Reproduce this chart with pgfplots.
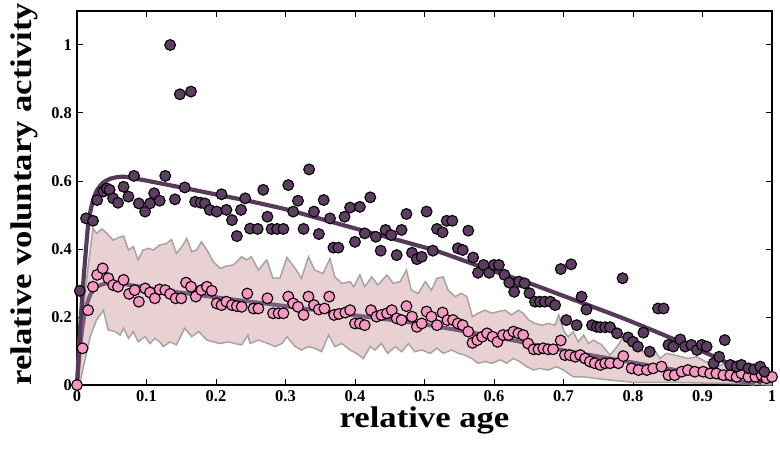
\documentclass[border=0pt]{standalone}
\usepackage{fontspec}
\setmainfont{Liberation Serif}
\usepackage{graphicx}
\usepackage{pgfplots}
\pgfplotsset{compat=1.18}
\definecolor{darkpt}{HTML}{5E3D62}
\definecolor{darkfit}{HTML}{573959}
\definecolor{pinkpt}{HTML}{F497C1}
\definecolor{pinkfit}{HTML}{7A5C7E}
\definecolor{bandfill}{HTML}{E9D1D3}
\definecolor{bandedge}{HTML}{A4A4A4}
\begin{document}
\begin{tikzpicture}
\useasboundingbox (-77bp,-64bp) rectangle (703bp,385bp);
\begin{axis}[
  at={(0,0)}, anchor=south west,
  width=695bp, height=374bp, scale only axis,
  xmin=0, xmax=1, ymin=0, ymax=1.1,
  clip=false,
  axis line style={line width=1.1pt},
  tick style={line width=1pt, black},
  major tick length=6bp,
  tick align=inside,
  /pgf/number format/assume math mode=true,
  xtick={0,0.1,0.2,0.3,0.4,0.5,0.6,0.7,0.8,0.9,1},
  xticklabels={0,0.1,0.2,0.3,0.4,0.5,0.6,0.7,0.8,0.9,1},
  ytick={0,0.2,0.4,0.6,0.8,1},
  yticklabels={0,0.2,0.4,0.6,0.8,1},
  tick label style={font=\fontsize{16.5}{16.5}\selectfont\bfseries, inner sep=2bp},
  xticklabel style={yshift=-3bp},
  yticklabel style={xshift=-3bp},
  xlabel={\scalebox{1.16}[1]{relative age}},
  ylabel={\scalebox{1.16}[1]{relative voluntary activity}},
  label style={font=\fontsize{30}{30}\selectfont\bfseries, inner sep=0pt},
  xlabel style={at={(axis description cs:0.5,-0.1123)}, anchor=base},
  ylabel style={at={(axis description cs:-0.0652,0.5107)}, anchor=base, rotate=0},
]
% shaded band
\addplot[fill=bandfill, draw=none] coordinates {
(0,0) (0.008,0.2) (0.016,0.348) (0.023,0.461) (0.028,0.446) (0.036,0.459) (0.043,0.446) (0.052,0.426) (0.06,0.434) (0.067,0.438) (0.074,0.397) (0.081,0.407) (0.088,0.368) (0.095,0.397) (0.103,0.402) (0.11,0.397) (0.119,0.412) (0.129,0.416) (0.136,0.428) (0.143,0.387) (0.151,0.407) (0.158,0.431) (0.165,0.392) (0.172,0.397) (0.179,0.421) (0.187,0.397) (0.196,0.363) (0.206,0.343) (0.215,0.35) (0.225,0.353) (0.237,0.377) (0.244,0.368) (0.251,0.377) (0.261,0.338) (0.273,0.368) (0.282,0.314) (0.292,0.314) (0.302,0.375) (0.314,0.343) (0.323,0.314) (0.333,0.377) (0.342,0.338) (0.354,0.328) (0.364,0.372) (0.371,0.318) (0.381,0.299) (0.393,0.304) (0.398,0.289) (0.407,0.324) (0.414,0.289) (0.424,0.318) (0.433,0.294) (0.446,0.324) (0.455,0.299) (0.465,0.304) (0.474,0.338) (0.481,0.279) (0.491,0.269) (0.501,0.304) (0.51,0.279) (0.518,0.314) (0.527,0.318) (0.534,0.279) (0.544,0.26) (0.553,0.27) (0.561,0.26) (0.569,0.201) (0.577,0.211) (0.587,0.22) (0.597,0.211) (0.606,0.216) (0.616,0.22) (0.625,0.206) (0.635,0.22) (0.642,0.211) (0.65,0.191) (0.659,0.181) (0.669,0.176) (0.678,0.181) (0.688,0.176) (0.693,0.206) (0.701,0.157) (0.707,0.142) (0.714,0.157) (0.721,0.127) (0.729,0.147) (0.736,0.122) (0.743,0.132) (0.755,0.118) (0.767,0.088) (0.779,0.118) (0.788,0.152) (0.8,0.113) (0.812,0.103) (0.822,0.083) (0.829,0.108) (0.839,0.078) (0.848,0.093) (0.86,0.088) (0.87,0.083) (0.879,0.078) (0.892,0.083) (0.904,0.069) (0.916,0.064) (0.923,0.054) (0.932,0.064) (0.942,0.044) (0.951,0.034) (0.966,0.024) (0.98,0.015) (0.995,0.005) (1,0.003)
(1,0) (0.95,0.004) (0.9,0.006) (0.85,0.008) (0.8,0.008) (0.78,0.012) (0.76,0.016) (0.743,0.02) (0.729,0.024) (0.714,0.024) (0.7,0.044) (0.69,0.054) (0.678,0.044) (0.666,0.049) (0.657,0.044) (0.647,0.054) (0.637,0.069) (0.628,0.078) (0.618,0.064) (0.609,0.074) (0.597,0.064) (0.587,0.069) (0.577,0.064) (0.568,0.078) (0.558,0.088) (0.549,0.093) (0.539,0.103) (0.527,0.093) (0.518,0.108) (0.508,0.093) (0.496,0.103) (0.486,0.098) (0.477,0.122) (0.467,0.098) (0.458,0.113) (0.447,0.093) (0.438,0.122) (0.429,0.103) (0.422,0.113) (0.412,0.078) (0.402,0.093) (0.393,0.103) (0.381,0.122) (0.371,0.113) (0.362,0.147) (0.352,0.098) (0.342,0.108) (0.333,0.113) (0.323,0.103) (0.314,0.113) (0.302,0.142) (0.295,0.122) (0.285,0.113) (0.275,0.122) (0.261,0.132) (0.249,0.122) (0.246,0.147) (0.237,0.118) (0.227,0.122) (0.218,0.127) (0.206,0.122) (0.196,0.127) (0.187,0.132) (0.175,0.157) (0.165,0.142) (0.155,0.167) (0.143,0.118) (0.134,0.127) (0.124,0.113) (0.119,0.127) (0.112,0.137) (0.105,0.122) (0.098,0.142) (0.088,0.127) (0.081,0.157) (0.074,0.137) (0.067,0.167) (0.062,0.147) (0.055,0.157) (0.045,0.162) (0.038,0.22) (0.028,0.191) (0.019,0.142) (0.004,0.005) (0,0)
} -- cycle;
\addplot[draw=bandedge, line width=1.5pt] coordinates {
(0,0) (0.008,0.2) (0.016,0.348) (0.023,0.461) (0.028,0.446) (0.036,0.459) (0.043,0.446) (0.052,0.426) (0.06,0.434) (0.067,0.438) (0.074,0.397) (0.081,0.407) (0.088,0.368) (0.095,0.397) (0.103,0.402) (0.11,0.397) (0.119,0.412) (0.129,0.416) (0.136,0.428) (0.143,0.387) (0.151,0.407) (0.158,0.431) (0.165,0.392) (0.172,0.397) (0.179,0.421) (0.187,0.397) (0.196,0.363) (0.206,0.343) (0.215,0.35) (0.225,0.353) (0.237,0.377) (0.244,0.368) (0.251,0.377) (0.261,0.338) (0.273,0.368) (0.282,0.314) (0.292,0.314) (0.302,0.375) (0.314,0.343) (0.323,0.314) (0.333,0.377) (0.342,0.338) (0.354,0.328) (0.364,0.372) (0.371,0.318) (0.381,0.299) (0.393,0.304) (0.398,0.289) (0.407,0.324) (0.414,0.289) (0.424,0.318) (0.433,0.294) (0.446,0.324) (0.455,0.299) (0.465,0.304) (0.474,0.338) (0.481,0.279) (0.491,0.269) (0.501,0.304) (0.51,0.279) (0.518,0.314) (0.527,0.318) (0.534,0.279) (0.544,0.26) (0.553,0.27) (0.561,0.26) (0.569,0.201) (0.577,0.211) (0.587,0.22) (0.597,0.211) (0.606,0.216) (0.616,0.22) (0.625,0.206) (0.635,0.22) (0.642,0.211) (0.65,0.191) (0.659,0.181) (0.669,0.176) (0.678,0.181) (0.688,0.176) (0.693,0.206) (0.701,0.157) (0.707,0.142) (0.714,0.157) (0.721,0.127) (0.729,0.147) (0.736,0.122) (0.743,0.132) (0.755,0.118) (0.767,0.088) (0.779,0.118) (0.788,0.152) (0.8,0.113) (0.812,0.103) (0.822,0.083) (0.829,0.108) (0.839,0.078) (0.848,0.093) (0.86,0.088) (0.87,0.083) (0.879,0.078) (0.892,0.083) (0.904,0.069) (0.916,0.064) (0.923,0.054) (0.932,0.064) (0.942,0.044) (0.951,0.034) (0.966,0.024) (0.98,0.015) (0.995,0.005) (1,0.003)
};
\addplot[draw=bandedge, line width=1.5pt] coordinates {
(1,0) (0.95,0.004) (0.9,0.006) (0.85,0.008) (0.8,0.008) (0.78,0.012) (0.76,0.016) (0.743,0.02) (0.729,0.024) (0.714,0.024) (0.7,0.044) (0.69,0.054) (0.678,0.044) (0.666,0.049) (0.657,0.044) (0.647,0.054) (0.637,0.069) (0.628,0.078) (0.618,0.064) (0.609,0.074) (0.597,0.064) (0.587,0.069) (0.577,0.064) (0.568,0.078) (0.558,0.088) (0.549,0.093) (0.539,0.103) (0.527,0.093) (0.518,0.108) (0.508,0.093) (0.496,0.103) (0.486,0.098) (0.477,0.122) (0.467,0.098) (0.458,0.113) (0.447,0.093) (0.438,0.122) (0.429,0.103) (0.422,0.113) (0.412,0.078) (0.402,0.093) (0.393,0.103) (0.381,0.122) (0.371,0.113) (0.362,0.147) (0.352,0.098) (0.342,0.108) (0.333,0.113) (0.323,0.103) (0.314,0.113) (0.302,0.142) (0.295,0.122) (0.285,0.113) (0.275,0.122) (0.261,0.132) (0.249,0.122) (0.246,0.147) (0.237,0.118) (0.227,0.122) (0.218,0.127) (0.206,0.122) (0.196,0.127) (0.187,0.132) (0.175,0.157) (0.165,0.142) (0.155,0.167) (0.143,0.118) (0.134,0.127) (0.124,0.113) (0.119,0.127) (0.112,0.137) (0.105,0.122) (0.098,0.142) (0.088,0.127) (0.081,0.157) (0.074,0.137) (0.067,0.167) (0.062,0.147) (0.055,0.157) (0.045,0.162) (0.038,0.22) (0.028,0.191) (0.019,0.142) (0.004,0.005) (0,0)
};
% pink points
\addplot[only marks, mark=*, mark size=5.4bp, mark options={fill=pinkpt, draw=black, line width=1.1pt}] coordinates {
(0,0) (0.008,0.108) (0.016,0.22) (0.023,0.289) (0.029,0.324) (0.037,0.343) (0.045,0.314) (0.052,0.294) (0.059,0.289) (0.067,0.309) (0.075,0.268) (0.083,0.279) (0.089,0.245) (0.098,0.284) (0.105,0.272) (0.112,0.255) (0.119,0.281) (0.127,0.279) (0.134,0.268) (0.142,0.255) (0.15,0.255) (0.157,0.301) (0.164,0.289) (0.171,0.26) (0.179,0.279) (0.187,0.289) (0.194,0.277) (0.201,0.24) (0.208,0.235) (0.215,0.245) (0.223,0.235) (0.23,0.232) (0.237,0.23) (0.245,0.269) (0.254,0.225) (0.261,0.225) (0.274,0.255) (0.282,0.211) (0.29,0.211) (0.297,0.211) (0.304,0.26) (0.311,0.24) (0.318,0.23) (0.326,0.206) (0.333,0.26) (0.341,0.235) (0.348,0.222) (0.356,0.225) (0.363,0.26) (0.37,0.206) (0.377,0.209) (0.386,0.213) (0.393,0.22) (0.4,0.181) (0.407,0.181) (0.414,0.176) (0.423,0.22) (0.431,0.201) (0.438,0.206) (0.446,0.211) (0.453,0.22) (0.46,0.196) (0.467,0.191) (0.474,0.232) (0.482,0.201) (0.489,0.171) (0.496,0.181) (0.503,0.216) (0.51,0.201) (0.518,0.176) (0.526,0.213) (0.533,0.191) (0.541,0.191) (0.548,0.181) (0.555,0.176) (0.563,0.157) (0.569,0.124) (0.576,0.132) (0.583,0.142) (0.59,0.152) (0.598,0.142) (0.605,0.127) (0.613,0.147) (0.621,0.147) (0.628,0.157) (0.635,0.152) (0.642,0.147) (0.649,0.122) (0.657,0.105) (0.664,0.105) (0.671,0.108) (0.678,0.105) (0.685,0.105) (0.696,0.131) (0.702,0.088) (0.709,0.088) (0.717,0.083) (0.724,0.088) (0.731,0.078) (0.738,0.069) (0.745,0.064) (0.753,0.059) (0.76,0.064) (0.767,0.064) (0.779,0.064) (0.786,0.085) (0.798,0.049) (0.808,0.044) (0.82,0.044) (0.829,0.049) (0.841,0.054) (0.851,0.029) (0.86,0.029) (0.87,0.039) (0.879,0.044) (0.889,0.039) (0.901,0.039) (0.911,0.034) (0.92,0.034) (0.93,0.029) (0.94,0.029) (0.949,0.024) (0.956,0.034) (0.966,0.024) (0.976,0.024) (0.985,0.029) (0.992,0.02) (1,0.024)
};
% dark points
\addplot[only marks, mark=*, mark size=5.4bp, mark options={fill=darkpt, draw=black, line width=1.1pt}] coordinates {
(0.004,0.277) (0.013,0.49) (0.023,0.483) (0.029,0.544) (0.038,0.569) (0.043,0.578) (0.047,0.574) (0.052,0.549) (0.059,0.536) (0.067,0.583) (0.074,0.554) (0.082,0.615) (0.089,0.534) (0.098,0.51) (0.105,0.534) (0.111,0.564) (0.119,0.542) (0.127,0.615) (0.134,1.0) (0.141,0.546) (0.148,0.855) (0.155,0.581) (0.164,0.863) (0.17,0.539) (0.178,0.536) (0.184,0.534) (0.191,0.515) (0.201,0.51) (0.208,0.561) (0.215,0.515) (0.223,0.485) (0.23,0.438) (0.236,0.515) (0.242,0.549) (0.249,0.46) (0.26,0.459) (0.268,0.574) (0.274,0.495) (0.28,0.459) (0.288,0.459) (0.297,0.459) (0.304,0.588) (0.311,0.51) (0.318,0.542) (0.326,0.459) (0.334,0.634) (0.341,0.51) (0.348,0.444) (0.355,0.544) (0.364,0.49) (0.369,0.404) (0.376,0.404) (0.385,0.495) (0.393,0.522) (0.4,0.421) (0.407,0.524) (0.414,0.446) (0.422,0.552) (0.43,0.436) (0.437,0.395) (0.444,0.456) (0.452,0.441) (0.46,0.382) (0.467,0.456) (0.474,0.503) (0.482,0.389) (0.489,0.37) (0.496,0.377) (0.503,0.51) (0.512,0.395) (0.518,0.459) (0.526,0.449) (0.532,0.483) (0.54,0.483) (0.548,0.402) (0.555,0.397) (0.563,0.454) (0.57,0.375) (0.577,0.33) (0.585,0.353) (0.593,0.33) (0.6,0.353) (0.607,0.353) (0.615,0.324) (0.622,0.301) (0.629,0.274) (0.636,0.304) (0.644,0.299) (0.651,0.27) (0.659,0.245) (0.666,0.245) (0.673,0.245) (0.681,0.245) (0.688,0.235) (0.696,0.341) (0.704,0.191) (0.711,0.355) (0.719,0.176) (0.726,0.26) (0.733,0.222) (0.741,0.176) (0.748,0.171) (0.753,0.17) (0.76,0.17) (0.767,0.17) (0.777,0.152) (0.785,0.314) (0.793,0.14) (0.8,0.127) (0.807,0.113) (0.815,0.154) (0.824,0.098) (0.836,0.225) (0.844,0.225) (0.851,0.118) (0.858,0.113) (0.868,0.134) (0.875,0.113) (0.884,0.118) (0.892,0.103) (0.899,0.118) (0.906,0.113) (0.916,0.064) (0.924,0.083) (0.932,0.132) (0.94,0.059) (0.949,0.054) (0.956,0.059) (0.966,0.049) (0.974,0.046) (0.983,0.054) (0.989,0.039)
};
% pink fit
\addplot[pinkfit, line width=4pt, smooth, tension=0.4] coordinates {
(0,0) (0.004,0.1) (0.008,0.17) (0.012,0.22) (0.019,0.265) (0.028,0.288) (0.04,0.298) (0.05,0.3) (0.07,0.296) (0.12,0.28) (0.2,0.258) (0.3,0.232) (0.4,0.205) (0.5,0.178) (0.6,0.142) (0.7,0.102) (0.8,0.066) (0.9,0.03) (0.95,0.012) (0.975,0.002)
};
% dark fit
\addplot[darkfit, line width=4.2pt, smooth, tension=0.4] coordinates {
(0,0) (0.004,0.15) (0.009,0.3) (0.016,0.47) (0.022,0.535) (0.028,0.57) (0.037,0.594) (0.047,0.606) (0.06,0.612) (0.071,0.612) (0.081,0.608) (0.1,0.601) (0.155,0.579) (0.206,0.558) (0.25,0.54) (0.3,0.517) (0.35,0.489) (0.417,0.451) (0.513,0.397) (0.585,0.345) (0.65,0.3) (0.7,0.262) (0.786,0.196) (0.868,0.127) (0.925,0.076) (0.96,0.038) (0.985,0.005)
};
\end{axis}
\end{tikzpicture}
\end{document}
